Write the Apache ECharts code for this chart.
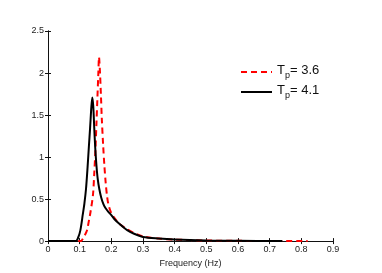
<!DOCTYPE html>
<html>
<head>
<meta charset="utf-8">
<script src="https://cdn.jsdelivr.net/npm/echarts@6/dist/echarts.min.js"></script>
<style>html,body{margin:0;padding:0;background:#fff;}#c{width:382px;height:273px;}</style>
</head>
<body>
<div id="c"></div>
<script>
// Series: Tp = 3.6 (red dashed)
var freqA = [0, 0.05, 0.104, 0.107, 0.115, 0.123, 0.13, 0.134, 0.142, 0.146, 0.15, 0.153, 0.156, 0.159, 0.161, 0.164, 0.167, 0.17, 0.174, 0.178, 0.182, 0.186, 0.19, 0.197, 0.205, 0.215, 0.227, 0.25, 0.27, 0.3, 0.35, 0.4, 0.5, 0.6, 0.7, 0.82];
var specA = [0, 0, 0, 0.01, 0.06, 0.125, 0.26, 0.34, 0.55, 0.8, 1.1, 1.4, 1.7, 2.0, 2.19, 2.02, 1.75, 1.45, 1.15, 0.9, 0.7, 0.55, 0.45, 0.36, 0.3, 0.25, 0.2, 0.14, 0.1, 0.055, 0.03, 0.018, 0.007, 0.003, 0.0015, 0.001];
// Series: Tp = 4.1 (black solid)
var freqB = [0, 0.05, 0.088, 0.095, 0.102, 0.11, 0.115, 0.12, 0.125, 0.129, 0.133, 0.137, 0.14, 0.143, 0.146, 0.149, 0.153, 0.157, 0.162, 0.168, 0.175, 0.182, 0.19, 0.2, 0.21, 0.227, 0.25, 0.27, 0.3, 0.35, 0.4, 0.5, 0.6, 0.74];
var specB = [0, 0, 0, 0.04, 0.125, 0.32, 0.45, 0.62, 0.88, 1.12, 1.35, 1.6, 1.71, 1.6, 1.35, 1.12, 0.9, 0.74, 0.62, 0.52, 0.44, 0.39, 0.35, 0.31, 0.26, 0.2, 0.13, 0.09, 0.05, 0.03, 0.018, 0.007, 0.003, 0.001];
var seriesNames = ['Tp = 3.6', 'Tp = 4.1'];
var legendLabels = {'Tp = 3.6': '= 3.6', 'Tp = 4.1': '= 4.1'};
var xTickLabels = ['0', '0.1', '0.2', '0.3', '0.4', '0.5', '0.6', '0.7', '0.8', '0.9'];
var yTickLabels = ['0', '0.5', '1', '1.5', '2', '2.5'];

function pairs(xs, ys) { return xs.map(function (x, i) { return [x, ys[i]]; }); }

var axisColor = '#111';
var font = 'Liberation Sans, Arial, sans-serif';
var chart = echarts.init(document.getElementById('c'));
chart.setOption({
  animation: false,
  backgroundColor: '#fff',
  grid: { left: 48, top: 31, right: 49, bottom: 29, containLabel: false },
  legend: {
    orient: 'vertical',
    left: 240,
    top: 64,
    padding: 0,
    itemWidth: 31,
    itemHeight: 12,
    itemGap: 4,
    data: seriesNames,
    itemStyle: { opacity: 0, borderWidth: 0 },
    formatter: function (n) { return '{t|T}{s|p}{t|' + legendLabels[n] + '}'; },
    textStyle: {
      fontFamily: font,
      color: '#111',
      rich: {
        t: { fontSize: 13, fontFamily: font, color: '#111', padding: [0, 0, 3, 0] },
        s: { fontSize: 9, fontFamily: font, color: '#111', padding: [7, 0, 0, 0] }
      }
    }
  },
  xAxis: [{
    type: 'value', min: 0, max: 0.9, interval: 0.1, position: 'bottom',
    name: 'Frequency (Hz)', nameLocation: 'middle', nameGap: 15,
    nameTextStyle: { fontSize: 9, fontFamily: font, color: '#222' },
    axisLine: { lineStyle: { color: axisColor, width: 1 } },
    axisTick: { inside: true, length: 3, lineStyle: { color: axisColor } },
    axisLabel: { fontSize: 9, fontFamily: font, color: '#222', margin: 4,
      formatter: function (v) { return xTickLabels[Math.round(v * 10)]; } },
    splitLine: { show: false }
  }, {
    type: 'value', min: 0, max: 0.9, interval: 0.1, position: 'top',
    axisLine: { show: true, lineStyle: { color: axisColor, width: 1 } },
    axisTick: { inside: true, length: 3, lineStyle: { color: axisColor } },
    axisLabel: { show: false }, splitLine: { show: false }
  }],
  yAxis: [{
    type: 'value', min: 0, max: 2.5, interval: 0.5, position: 'left',
    axisLine: { show: true, lineStyle: { color: axisColor, width: 1 } },
    axisTick: { show: true, inside: true, length: 3, lineStyle: { color: axisColor } },
    axisLabel: { fontSize: 9, fontFamily: font, color: '#222', margin: 4,
      formatter: function (v) { return yTickLabels[Math.round(v * 2)]; } },
    splitLine: { show: false }
  }, {
    type: 'value', min: 0, max: 2.5, interval: 0.5, position: 'right',
    axisLine: { show: true, lineStyle: { color: axisColor, width: 1 } },
    axisTick: { show: true, inside: true, length: 3, lineStyle: { color: axisColor } },
    axisLabel: { show: false }, splitLine: { show: false }
  }],
  series: [{
    name: seriesNames[0], type: 'line', symbol: 'none', smooth: 0.3,
    data: pairs(freqA, specA), xAxisIndex: 0, yAxisIndex: 0,
    lineStyle: { color: '#ff0000', width: 2, type: [6, 4] },
    itemStyle: { color: '#ff0000' }, z: 2
  }, {
    name: seriesNames[1], type: 'line', symbol: 'none', smooth: 0.3,
    data: pairs(freqB, specB), xAxisIndex: 0, yAxisIndex: 0,
    lineStyle: { color: '#000000', width: 2 },
    itemStyle: { color: '#000000' }, z: 3
  }]
});
</script>
</body>
</html>
